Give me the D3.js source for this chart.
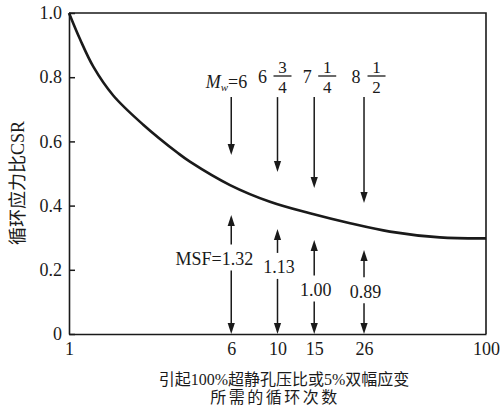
<!DOCTYPE html>
<html>
<head>
<meta charset="utf-8">
<script src="https://cdn.jsdelivr.net/npm/d3@7"></script>
<style>
  html, body { margin: 0; padding: 0; background: #fff; }
  svg { display: block; }
  text { fill: #1a1a1a; }
</style>
</head>
<body>
<svg id="chart" width="503" height="413"></svg>
<script>
// ---- data ----
const cycles = [1, 1.13, 1.31, 1.63, 2.27, 3.34, 3.8, 5.92, 9.2, 14.3, 22.3, 34.6, 60, 100];
const csr    = [1.0, 0.918, 0.832, 0.743, 0.652, 0.563, 0.537, 0.464, 0.412, 0.376, 0.345, 0.319, 0.301, 0.298];

const eqCycles = [6, 10, 15, 26];
const magWhole = ["6", "6", "7", "8"];
const magNum   = [null, "3", "1", "1"];
const magDen   = [null, "4", "4", "2"];
const msfLabels = ["MSF=1.32", "1.13", "1.00", "0.89"];

const downTopCSR = [0.738, 0.738, 0.738, 0.738];
const downTipCSR = [0.558, 0.505, 0.455, 0.408];
const upTipCSR   = [0.371, 0.327, 0.293, 0.262];
const msfTextCSR = [0.235, 0.209, 0.139, 0.133];

const xTicks = [1, 6, 10, 15, 26, 100];
const yTicks = [0, 0.2, 0.4, 0.6, 0.8, 1.0];

const xTitle1 = "引起100%超静孔压比或5%双幅应变";
const xTitle2 = "所需的循环次数";
const yTitle = "循环应力比CSR";

// ---- layout ----
const svg = d3.select("#chart");
const L = 69, R = 486, T = 13, B = 334;
const serif = "'Liberation Serif', 'Times New Roman', serif";
const cjk = "'Liberation Serif', 'Noto Sans CJK SC', serif";
const ink = "#1a1a1a";

const x = d3.scaleLog().domain([1, 100]).range([L, R]);
const y = d3.scaleLinear().domain([0, 1]).range([B, T]);

// axes
const yAxis = d3.axisLeft(y).tickValues(yTicks)
  .tickSizeInner(-6).tickSizeOuter(0).tickPadding(7)
  .tickFormat(d => d === 0 ? "0" : d3.format(".1f")(d));
const gy = svg.append("g").attr("transform", `translate(${L},0)`).call(yAxis);
gy.select(".domain").attr("stroke", ink).attr("stroke-width", 1.6);
gy.selectAll(".tick line").attr("stroke", ink).attr("stroke-width", 1.5);
gy.selectAll("text").attr("font-family", serif).attr("font-size", 18).attr("fill", ink);

const xAxis = d3.axisBottom(x).tickValues(xTicks)
  .tickSize(0).tickPadding(8).tickFormat(d3.format("d"));
const gx = svg.append("g").attr("transform", `translate(0,${B})`).call(xAxis);
gx.select(".domain").attr("stroke", ink).attr("stroke-width", 1.6);
gx.selectAll("text").attr("font-family", serif).attr("font-size", 18).attr("fill", ink);

// frame top & right
svg.append("path")
  .attr("d", `M${x(1)},${y(1)}H${x(100)}V${y(0)}`)
  .attr("fill", "none").attr("stroke", ink).attr("stroke-width", 1.6);

// curve
const line = d3.line().x((d, i) => x(cycles[i])).y(d => y(d)).curve(d3.curveCatmullRom.alpha(0.5));
svg.append("path").datum(csr).attr("d", line)
  .attr("fill", "none").attr("stroke", ink).attr("stroke-width", 2.6);

// arrow helpers
const HL = 11, HW = 3.6;
function head(px, py, dir) { // dir: +1 pointing down, -1 pointing up
  svg.append("path")
    .attr("d", `M${px},${py}L${px - HW},${py - dir * HL}L${px + HW},${py - dir * HL}Z`)
    .attr("fill", ink);
}
function seg(px, y1, y2) {
  svg.append("line").attr("x1", px).attr("x2", px).attr("y1", y1).attr("y2", y2)
    .attr("stroke", ink).attr("stroke-width", 1.5);
}

// downward arrows (magnitude)
eqCycles.forEach((n, i) => {
  const px = x(n);
  seg(px, y(downTopCSR[i]), y(downTipCSR[i]) - HL + 1);
  head(px, y(downTipCSR[i]), 1);
});

// magnitude labels
const wholeOff = [0, -15, -7, -8];
const fracOff = [0, 5, 13, 12.5];
eqCycles.forEach((n, i) => {
  const px = x(n);
  if (i === 0) {
    const t = svg.append("text").attr("x", px + 16).attr("y", 88)
      .attr("text-anchor", "end").attr("font-family", serif).attr("font-size", 18);
    t.append("tspan").attr("font-style", "italic").text("M");
    t.append("tspan").attr("font-style", "italic").attr("font-size", 11).attr("dy", 3).text("w");
    t.append("tspan").attr("dy", -3).text("=6");
  } else {
    svg.append("text").attr("x", px + wholeOff[i]).attr("y", 83)
      .attr("text-anchor", "middle").attr("font-family", serif).attr("font-size", 18)
      .text(magWhole[i]);
    const fx = px + fracOff[i];
    svg.append("text").attr("x", fx).attr("y", 73)
      .attr("text-anchor", "middle").attr("font-family", serif).attr("font-size", 17)
      .text(magNum[i]);
    svg.append("line").attr("x1", fx - 9).attr("x2", fx + 9).attr("y1", 76).attr("y2", 76)
      .attr("stroke", ink).attr("stroke-width", 1.3);
    svg.append("text").attr("x", fx).attr("y", 93)
      .attr("text-anchor", "middle").attr("font-family", serif).attr("font-size", 17)
      .text(magDen[i]);
  }
});

// double arrows with MSF labels
eqCycles.forEach((n, i) => {
  const px = x(n);
  const ty = y(msfTextCSR[i]);
  const tip = y(upTipCSR[i]);
  head(px, tip, -1);
  seg(px, tip + HL - 1, ty - 14);
  seg(px, ty + 12, B - HL + 1);
  head(px, B, 1);
  const t = svg.append("text").attr("y", ty).attr("dy", "0.35em")
    .attr("font-family", serif).attr("font-size", 18);
  if (i === 0) t.attr("x", px + 22).attr("text-anchor", "end");
  else t.attr("x", px + 1.5).attr("text-anchor", "middle");
  t.text(msfLabels[i]);
});

// axis titles
svg.append("text").attr("x", 284).attr("y", 385).attr("text-anchor", "middle")
  .attr("font-family", cjk).attr("font-size", 16).text(xTitle1);
svg.append("text").attr("x", 275).attr("y", 403).attr("text-anchor", "middle")
  .attr("font-family", cjk).attr("font-size", 16).attr("letter-spacing", 2.5).text(xTitle2);
svg.append("text").attr("transform", "translate(24,183) rotate(-90)")
  .attr("text-anchor", "middle").attr("font-family", cjk).attr("font-size", 18).text(yTitle);
</script>
</body>
</html>
